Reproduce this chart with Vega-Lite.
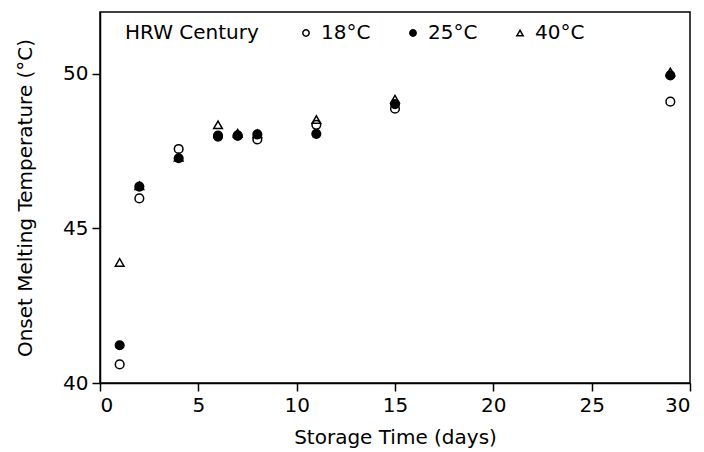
{
  "$schema": "https://vega.github.io/schema/vega-lite/v6.json",
  "width": 590,
  "height": 371,
  "autosize": {"type": "none"},
  "padding": {"left": 100, "top": 12, "right": 14, "bottom": 69},
  "background": "white",
  "config": {
    "font": "DejaVu Sans",
    "view": {"stroke": "black", "strokeWidth": 1.5},
    "axis": {
      "grid": false,
      "domainColor": "black",
      "domainWidth": 1.5,
      "tickColor": "black",
      "tickWidth": 1.5,
      "tickSize": 8,
      "labelFontSize": 20,
      "labelColor": "black",
      "titleFontSize": 20,
      "titleColor": "black",
      "titleFontWeight": "normal"
    },
    "legend": {
      "titleFontSize": 20,
      "titleFontWeight": "normal",
      "titleColor": "black",
      "labelFontSize": 20,
      "labelColor": "black"
    }
  },
  "data": {
    "values": [
      {"day": 1, "temp": 40.6, "series": "18°C"},
      {"day": 1, "temp": 41.22, "series": "25°C"},
      {"day": 1, "temp": 43.9, "series": "40°C"},
      {"day": 2, "temp": 45.97, "series": "18°C"},
      {"day": 2, "temp": 46.35, "series": "25°C"},
      {"day": 2, "temp": 46.38, "series": "40°C"},
      {"day": 4, "temp": 47.57, "series": "18°C"},
      {"day": 4, "temp": 47.27, "series": "25°C"},
      {"day": 4, "temp": 47.3, "series": "40°C"},
      {"day": 6, "temp": 48.0, "series": "18°C"},
      {"day": 6, "temp": 47.97, "series": "25°C"},
      {"day": 6, "temp": 48.35, "series": "40°C"},
      {"day": 7, "temp": 48.0, "series": "18°C"},
      {"day": 7, "temp": 48.0, "series": "25°C"},
      {"day": 7, "temp": 48.08, "series": "40°C"},
      {"day": 8, "temp": 47.88, "series": "18°C"},
      {"day": 8, "temp": 48.04, "series": "25°C"},
      {"day": 8, "temp": 48.06, "series": "40°C"},
      {"day": 11, "temp": 48.35, "series": "18°C"},
      {"day": 11, "temp": 48.06, "series": "25°C"},
      {"day": 11, "temp": 48.52, "series": "40°C"},
      {"day": 15, "temp": 48.87, "series": "18°C"},
      {"day": 15, "temp": 49.02, "series": "25°C"},
      {"day": 15, "temp": 49.18, "series": "40°C"},
      {"day": 29, "temp": 49.1, "series": "18°C"},
      {"day": 29, "temp": 49.95, "series": "25°C"},
      {"day": 29, "temp": 50.06, "series": "40°C"}
    ]
  },
  "mark": {"type": "point", "filled": true, "stroke": "black", "strokeWidth": 1.5, "size": 75, "opacity": 1},
  "encoding": {
    "x": {
      "field": "day",
      "type": "quantitative",
      "scale": {"domain": [0, 30], "nice": false, "zero": false},
      "axis": {"title": "Storage Time (days)", "values": [0, 5, 10, 15, 20, 25, 30], "labelPadding": 4, "titlePadding": 12}
    },
    "y": {
      "field": "temp",
      "type": "quantitative",
      "scale": {"domain": [40, 52], "nice": false, "zero": false},
      "axis": {"title": "Onset Melting Temperature (°C)", "values": [40, 45, 50], "labelPadding": 4, "titlePadding": 27}
    },
    "shape": {
      "field": "series",
      "type": "nominal",
      "scale": {"domain": ["18°C", "25°C", "40°C"], "range": ["circle", "circle", "triangle-up"]},
      "legend": {
        "title": "HRW Century",
        "orient": "none",
        "legendX": 25,
        "legendY": 11,
        "direction": "horizontal",
        "titleOrient": "left",
        "titlePadding": 37,
        "labelOffset": 5,
        "columnPadding": 32,
        "symbolSize": 40,
        "encode": {
          "symbols": {"update": {"stroke": {"value": "black"}, "strokeWidth": {"value": 1.5}}}
        }
      }
    },
    "fill": {
      "field": "series",
      "type": "nominal",
      "scale": {"domain": ["18°C", "25°C", "40°C"], "range": ["transparent", "black", "transparent"]},
      "legend": {
        "title": "HRW Century",
        "orient": "none",
        "legendX": 25,
        "legendY": 11,
        "direction": "horizontal",
        "titleOrient": "left",
        "titlePadding": 37,
        "labelOffset": 5,
        "columnPadding": 32,
        "symbolSize": 40,
        "encode": {
          "symbols": {"update": {"stroke": {"value": "black"}, "strokeWidth": {"value": 1.5}}}
        }
      }
    }
  }
}
